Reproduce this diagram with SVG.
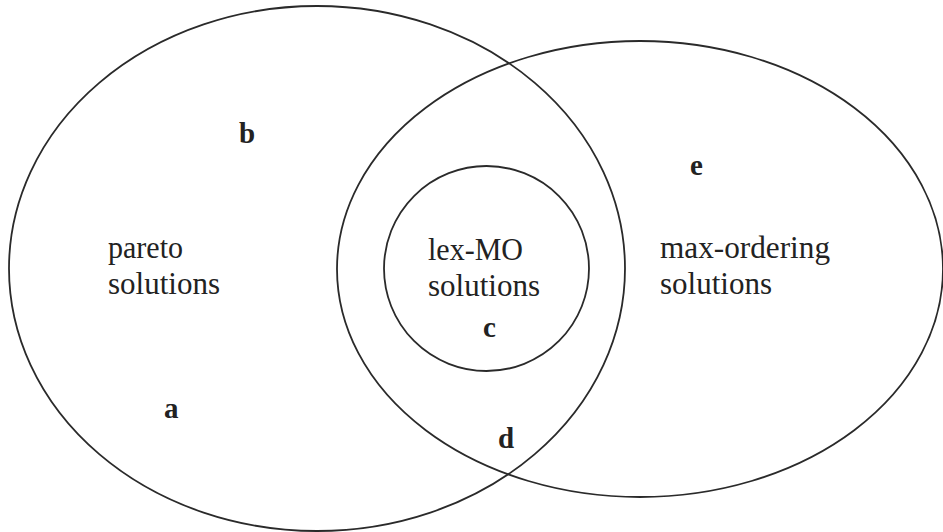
<svg xmlns="http://www.w3.org/2000/svg" width="943" height="532" viewBox="0 0 943 532">
<style>
.set{fill:none;stroke:#2a2a2a;stroke-width:1.8}
.lbl{font-family:"Liberation Serif","Times New Roman",serif;font-size:31px;fill:#222}
.pt{font-family:"Liberation Serif","Times New Roman",serif;font-size:29px;font-weight:bold;fill:#222}
</style>
<rect width="943" height="532" fill="#fff"/>
<g id="pareto">
<ellipse class="set" cx="317" cy="268.5" rx="308" ry="262.5"/>
<text class="lbl" x="108" y="258" textLength="75" lengthAdjust="spacingAndGlyphs">pareto</text>
<text class="lbl" x="108" y="294" textLength="112" lengthAdjust="spacingAndGlyphs">solutions</text>
</g>
<g id="max-ordering">
<ellipse class="set" cx="640" cy="269" rx="303" ry="228"/>
<text class="lbl" x="660" y="258" textLength="170" lengthAdjust="spacingAndGlyphs">max-ordering</text>
<text class="lbl" x="660" y="294" textLength="112" lengthAdjust="spacingAndGlyphs">solutions</text>
</g>
<g id="lex-MO">
<circle class="set" cx="486.5" cy="268.5" r="102.5"/>
<text class="lbl" x="428" y="260" textLength="95" lengthAdjust="spacingAndGlyphs">lex-MO</text>
<text class="lbl" x="428" y="296" textLength="112" lengthAdjust="spacingAndGlyphs">solutions</text>
</g>
<g id="point-a"><text class="pt" x="164" y="418">a</text></g>
<g id="point-b"><text class="pt" x="239" y="143">b</text></g>
<g id="point-c"><text class="pt" x="483" y="337">c</text></g>
<g id="point-d"><text class="pt" x="498" y="448">d</text></g>
<g id="point-e"><text class="pt" x="690" y="175">e</text></g>
</svg>
